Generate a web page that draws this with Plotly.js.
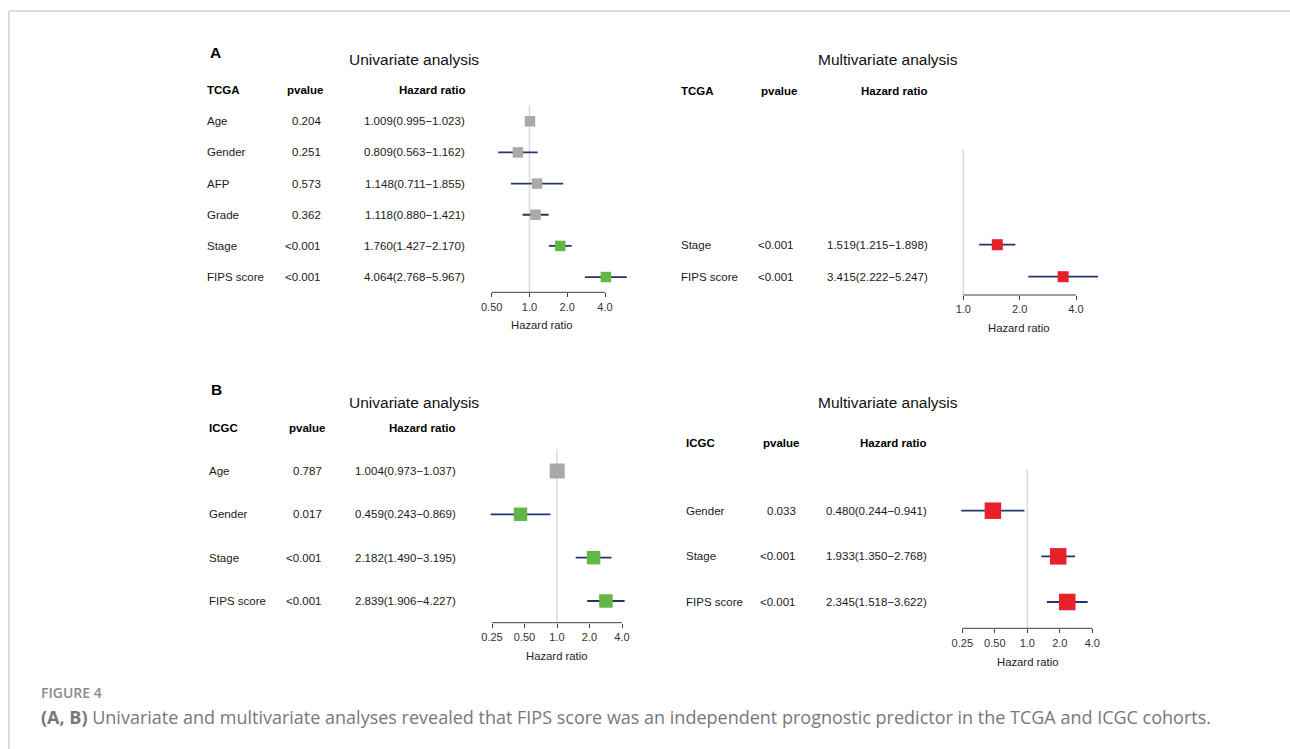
<!DOCTYPE html>
<html>
<head>
<meta charset="utf-8">
<script src="https://cdn.plot.ly/plotly-3.0.1.min.js"></script>
<style>html,body{margin:0;padding:0;background:#fff;}#chart{width:1290px;height:749px;}</style>
</head>
<body>
<div id="chart"></div>
<script>
// ---------------- DATA ----------------
const tcgaUniVars = ["Age", "Gender", "AFP", "Grade", "Stage", "FIPS score"];
const tcgaUniP    = ["0.204", "0.251", "0.573", "0.362", "<0.001", "<0.001"];
const tcgaUniHR   = [1.009, 0.809, 1.148, 1.118, 1.760, 4.064];
const tcgaUniLo   = [0.995, 0.563, 0.711, 0.880, 1.427, 2.768];
const tcgaUniHi   = [1.023, 1.162, 1.855, 1.421, 2.170, 5.967];

const tcgaMultiVars = ["Stage", "FIPS score"];
const tcgaMultiP    = ["<0.001", "<0.001"];
const tcgaMultiHR   = [1.519, 3.415];
const tcgaMultiLo   = [1.215, 2.222];
const tcgaMultiHi   = [1.898, 5.247];

const icgcUniVars = ["Age", "Gender", "Stage", "FIPS score"];
const icgcUniP    = ["0.787", "0.017", "<0.001", "<0.001"];
const icgcUniHR   = [1.004, 0.459, 2.182, 2.839];
const icgcUniLo   = [0.973, 0.243, 1.490, 1.906];
const icgcUniHi   = [1.037, 0.869, 3.195, 4.227];

const icgcMultiVars = ["Gender", "Stage", "FIPS score"];
const icgcMultiP    = ["0.033", "<0.001", "<0.001"];
const icgcMultiHR   = [0.480, 1.933, 2.345];
const icgcMultiLo   = [0.244, 1.350, 1.518];
const icgcMultiHi   = [0.941, 2.768, 3.622];

const ticksA1 = [0.5, 1, 2, 4];          const tickTextA1 = ["0.50", "1.0", "2.0", "4.0"];
const ticksA2 = [1, 2, 4];               const tickTextA2 = ["1.0", "2.0", "4.0"];
const ticksB  = [0.25, 0.5, 1, 2, 4];    const tickTextB  = ["0.25", "0.50", "1.0", "2.0", "4.0"];

const headerLabel = ["pvalue", "Hazard ratio"];
const axisTitle = "Hazard ratio";
const figLabel = "FIGURE 4";
const captionBold = "(A, B)";
const captionText = " Univariate and multivariate analyses revealed that FIPS score was an independent prognostic predictor in the TCGA and ICGC cohorts.";

// ---------------- STYLE / LAYOUT ----------------
const W = 1290, H = 749;
const FONT = "Liberation Sans, Arial, sans-serif";
const COL = {gray: "#a9a9a9", green: "#62b846", red: "#e8202a", ci: "#26346e", ref: "#dadada", axis: "#404040", text: "#1a1a1a"};
const px = x => x / W;
const py = y => 1 - y / H;

const panels = [
  {vars: tcgaUniVars, p: tcgaUniP, hr: tcgaUniHR, lo: tcgaUniLo, hi: tcgaUniHi, ticks: ticksA1, tickText: tickTextA1,
   cohort: "TCGA", multi: false, letter: "A", letterX: 215, letterY: 53, title: "Univariate analysis", titleX: 414, titleY: 59,
   xDom: [485, 635], tickRef: [[0.5, 491.7], [4, 605]], yDom: [105, 292.3], row0: 121.3, sp: 31.15,
   colLabel: 205, colP: 322.5, colPHead: 325, colHR: 467, colHRHead: 467, headY: 90,
   axTitleX: 542, axTitleY: 325, sizes: [10.5, 10.5, 10.5, 10.5, 10.5, 10.5]},
  {vars: tcgaMultiVars, p: tcgaMultiP, hr: tcgaMultiHR, lo: tcgaMultiLo, hi: tcgaMultiHi, ticks: ticksA2, tickText: tickTextA2,
   cohort: "TCGA", multi: true, title: "Multivariate analysis", titleX: 887.7, titleY: 59,
   xDom: [955, 1105], tickRef: [[1, 963.3], [4, 1076]], yDom: [149.3, 295], row0: 244.7, sp: 32,
   colLabel: 679, colP: 795.5, colPHead: 798.5, colHR: 930, colHRHead: 929, headY: 91,
   axTitleX: 1019, axTitleY: 328, sizes: [11, 11]},
  {vars: icgcUniVars, p: icgcUniP, hr: icgcUniHR, lo: icgcUniLo, hi: icgcUniHi, ticks: ticksB, tickText: tickTextB,
   cohort: "ICGC", multi: false, letter: "B", letterX: 216.7, letterY: 389, title: "Univariate analysis", titleX: 414, titleY: 402.7,
   xDom: [485, 635], tickRef: [[0.25, 492], [4, 622]], yDom: [449.3, 622.7], row0: 471, sp: 43.33,
   colLabel: 207, colP: 323.5, colPHead: 326.5, colHR: 457.5, colHRHead: 456.5, headY: 428.3,
   axTitleX: 557.3, axTitleY: 656, sizes: [15, 13.5, 13.5, 13.5]},
  {vars: icgcMultiVars, p: icgcMultiP, hr: icgcMultiHR, lo: icgcMultiLo, hi: icgcMultiHi, ticks: ticksB, tickText: tickTextB,
   cohort: "ICGC", multi: true, title: "Multivariate analysis", titleX: 887.7, titleY: 402.7,
   xDom: [955, 1105], tickRef: [[0.25, 962.3], [4, 1092.3]], yDom: [469.3, 628.3], row0: 510.7, sp: 45.65,
   colLabel: 684.3, colP: 798, colPHead: 801, colHR: 929, colHRHead: 928, headY: 443,
   axTitleX: 1027.7, axTitleY: 662.3, sizes: [16.5, 16.5, 16.5]}
];

const traces = [];
const annotations = [];
const shapes = [];
const layout = {
  width: W, height: H, margin: {l: 0, r: 0, t: 0, b: 0}, paper_bgcolor: "#fff", plot_bgcolor: "rgba(0,0,0,0)",
  showlegend: false, font: {family: FONT, color: COL.text}
};

const fmt = v => v.toFixed(3);
const isSig = s => s.trim().startsWith("<") || parseFloat(s) < 0.05;

panels.forEach((P, k) => {
  const sfx = k === 0 ? "" : String(k + 1);
  const xa = "x" + sfx, ya = "y" + sfx;
  const [[v1, p1], [v2, p2]] = P.tickRef;
  const kpx = (Math.log10(v2) - Math.log10(v1)) / (p2 - p1);
  const xr = [Math.log10(v1) + (P.xDom[0] - p1) * kpx, Math.log10(v1) + (P.xDom[1] - p1) * kpx];
  const val = y => (y - P.row0) / P.sp;
  const yr = [val(P.yDom[1]), val(P.yDom[0])];

  layout["xaxis" + sfx] = {
    type: "log", domain: [px(P.xDom[0]), px(P.xDom[1])], range: xr, anchor: ya,
    tickmode: "array", tickvals: P.ticks, ticktext: P.tickText, ticks: "outside", ticklen: 4, tickwidth: 1,
    tickcolor: COL.axis, showline: false, showgrid: false, zeroline: false, fixedrange: true,
    tickfont: {family: FONT, size: 11, color: "#333"}
  };
  layout["yaxis" + sfx] = {
    domain: [py(P.yDom[1]), py(P.yDom[0])], range: yr, anchor: xa, showgrid: false, zeroline: false,
    showticklabels: false, ticks: "", showline: false, fixedrange: true
  };

  // reference line at HR = 1
  shapes.push({type: "line", xref: xa, yref: ya + " domain", x0: 1, x1: 1, y0: 0, y1: 1,
    line: {color: COL.ref, width: 1.5}, layer: "below"});
  // axis line across tick range
  shapes.push({type: "line", xref: xa, yref: ya + " domain", x0: P.ticks[0], x1: P.ticks[P.ticks.length - 1], y0: 0, y1: 0,
    line: {color: COL.axis, width: 1}});

  const colors = P.p.map(s => P.multi ? COL.red : (isSig(s) ? COL.green : COL.gray));
  const idx = P.vars.map((_, i) => i);
  traces.push({
    type: "scatter", mode: "markers", xaxis: xa, yaxis: ya, x: P.hr, y: idx,
    marker: {symbol: "square", size: P.sizes, color: colors, opacity: 1, line: {width: 0}},
    error_x: {type: "data", symmetric: false, array: P.hr.map((h, i) => P.hi[i] - h),
      arrayminus: P.hr.map((h, i) => h - P.lo[i]), color: COL.ci, thickness: 1.8, width: 0},
    hoverinfo: "skip", cliponaxis: false
  });

  const tf = {family: FONT, size: 11.5, color: COL.text};
  const bf = {family: FONT, size: 11.5, color: "#000", weight: "bold"};
  // headers
  annotations.push({xref: "paper", yref: "paper", x: px(P.colLabel), y: py(P.headY), xanchor: "left", yanchor: "middle",
    text: "<b>" + P.cohort + "</b>", showarrow: false, font: bf});
  annotations.push({xref: "paper", yref: "paper", x: px(P.colPHead), y: py(P.headY), xanchor: "right", yanchor: "middle",
    text: "<b>" + headerLabel[0] + "</b>", showarrow: false, font: bf});
  annotations.push({xref: "paper", yref: "paper", x: px(P.colHRHead), y: py(P.headY), xanchor: "right", yanchor: "middle",
    text: "<b>" + headerLabel[1] + "</b>", showarrow: false, font: bf});
  // rows
  P.vars.forEach((v, i) => {
    annotations.push({xref: "paper", yref: ya, x: px(P.colLabel), y: i, xanchor: "left", yanchor: "middle",
      text: v, showarrow: false, font: tf});
    annotations.push({xref: "paper", yref: ya, x: px(P.colP), y: i, xanchor: "right", yanchor: "middle",
      text: P.p[i].replace("<", "&lt;"), showarrow: false, font: tf});
    annotations.push({xref: "paper", yref: ya, x: px(P.colHR), y: i, xanchor: "right", yanchor: "middle",
      text: fmt(P.hr[i]) + "(" + fmt(P.lo[i]) + "\u2212" + fmt(P.hi[i]) + ")", showarrow: false, font: tf});
  });
  // title
  annotations.push({xref: "paper", yref: "paper", x: px(P.titleX), y: py(P.titleY), xanchor: "center", yanchor: "middle",
    text: P.title, showarrow: false, font: {family: FONT, size: 15.5, color: "#111"}});
  if (P.letter) {
    annotations.push({xref: "paper", yref: "paper", x: px(P.letterX), y: py(P.letterY), xanchor: "center", yanchor: "middle",
      text: "<b>" + P.letter + "</b>", showarrow: false, font: {family: FONT, size: 15.5, color: "#000"}});
  }
  // axis title
  annotations.push({xref: "paper", yref: "paper", x: px(P.axTitleX), y: py(P.axTitleY), xanchor: "center", yanchor: "middle",
    text: axisTitle, showarrow: false, font: {family: FONT, size: 11.3, color: "#222"}});
});

// figure frame
shapes.push({type: "line", xref: "paper", yref: "paper", x0: px(9), x1: 1, y0: py(11), y1: py(11), line: {color: "#d2d2d2", width: 1.5}});
shapes.push({type: "line", xref: "paper", yref: "paper", x0: px(9), x1: px(9), y0: py(11), y1: 0, line: {color: "#d2d2d2", width: 1.5}});

// caption
annotations.push({xref: "paper", yref: "paper", x: px(39), y: py(692), xanchor: "left", yanchor: "middle",
  text: figLabel, showarrow: false, font: {family: "Open Sans, sans-serif", size: 14, color: "#8a8a8a", weight: 600}});
annotations.push({xref: "paper", yref: "paper", x: px(39), y: py(717), xanchor: "left", yanchor: "middle",
  text: "<b>" + captionBold + "</b>" + captionText, showarrow: false, font: {family: "Open Sans, sans-serif", size: 18, color: "#787878"}});

layout.annotations = annotations;
layout.shapes = shapes;

Plotly.newPlot("chart", traces, layout, {displayModeBar: false, staticPlot: true});
</script>
</body>
</html>
